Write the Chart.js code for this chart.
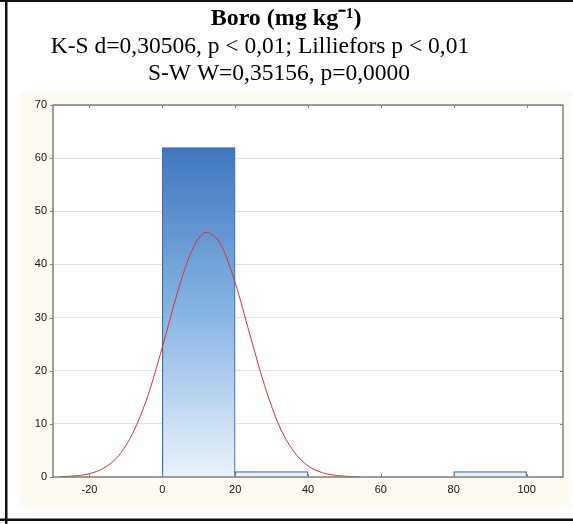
<!DOCTYPE html>
<html><head><meta charset="utf-8">
<script src="https://cdn.jsdelivr.net/npm/chart.js@4"></script>
<style>html,body{margin:0;padding:0;background:#fff;}#wrap{width:573px;height:524px;position:relative;}</style>
</head><body><div id="wrap"><canvas id="c" width="573" height="524"></canvas></div>
<script>
// Histogram bins (bin centre, bin width 20)
const binCenters = [10, 30, 90];
const binCounts = [62, 1, 1];
// Expected normal curve
const curveX = [-28, -24, -20, -16, -12, -8, -4, 0, 4, 8, 12, 16, 20, 24, 28, 32, 36, 40, 44, 48, 52, 54];
const curveY = [0.06, 0.21, 0.63, 1.7, 4.0, 8.4, 15.2, 24.4, 34.3, 42.4, 46.0, 43.8, 36.6, 26.9, 17.4, 9.8, 4.9, 2.1, 0.8, 0.28, 0.08, 0.05];
const xTicks = [-20, 0, 20, 40, 60, 80, 100];
const yTicks = [0, 10, 20, 30, 40, 50, 60, 70];
const titleLines = ['Boro (mg kg\u207B\u00B9)', 'K-S d=0,30506, p < 0,01; Lilliefors p < 0,01', 'S-W W=0,35156, p=0,0000'];

const serif = "'Liberation Serif', 'Times New Roman', serif";
const narrow = "'Liberation Sans Narrow', 'Liberation Sans', Arial, sans-serif";

const frame = {
  id: 'frame',
  beforeDraw(chart) {
    const ctx = chart.ctx;
    ctx.save();
    ctx.fillStyle = '#ffffff';
    ctx.fillRect(0, 0, 573, 524);
    ctx.fillStyle = '#fdfaf1';
    ctx.fillRect(20, 92, 551, 415);
    const a = chart.chartArea;
    ctx.fillStyle = '#ffffff';
    ctx.fillRect(a.left, a.top, a.right - a.left, a.bottom - a.top);
    ctx.fillStyle = '#111';
    ctx.fillRect(5, 0, 2.5, 524);
    ctx.fillRect(0, 0, 573, 2);
    ctx.fillRect(0, 518.5, 573, 2.5);
    // title block
    ctx.fillStyle = '#000';
    ctx.textAlign = 'center';
    ctx.textBaseline = 'middle';
    ctx.font = 'bold 24px ' + serif;
    ctx.fillText(titleLines[0], 286, 18.5);
    ctx.font = '23.5px ' + serif;
    ctx.fillText(titleLines[1], 260, 46.5);
    ctx.fillText(titleLines[2], 279, 73.5);
    ctx.restore();
  },
  afterDatasetsDraw(chart) {
    const ctx = chart.ctx, a = chart.chartArea;
    const xs = chart.scales.x, ys = chart.scales.y;
    ctx.save();
    ctx.strokeStyle = '#808080';
    ctx.lineWidth = 1.5;
    ctx.strokeRect(a.left, a.top, a.right - a.left, a.bottom - a.top);
    ctx.lineWidth = 1;
    ctx.beginPath();
    xTicks.forEach(v => {
      const px = Math.round(xs.getPixelForValue(v)) + 0.5;
      ctx.moveTo(px, a.bottom); ctx.lineTo(px, a.bottom - 3);
      ctx.moveTo(px, a.top); ctx.lineTo(px, a.top + 3);
    });
    yTicks.forEach(v => {
      const py = Math.round(ys.getPixelForValue(v)) + 0.5;
      ctx.moveTo(a.left, py); ctx.lineTo(a.left - 3, py);
      ctx.moveTo(a.right, py); ctx.lineTo(a.right - 3, py);
    });
    ctx.stroke();
    ctx.restore();
  }
};

const ctx = document.getElementById('c').getContext('2d');
function barGradient(context) {
  const chart = context.chart;
  const ys = chart.scales.y;
  if (!ys || !chart.chartArea) return '#4a80c4';
  const top = ys.getPixelForValue(62), bot = ys.getPixelForValue(0);
  const g = chart.ctx.createLinearGradient(0, top, 0, bot);
  g.addColorStop(0, '#3f76bf');
  g.addColorStop(0.5, '#86b5e3');
  g.addColorStop(1, '#eaf3fc');
  return g;
}

new Chart(ctx, {
  data: {
    datasets: [
      {
        type: 'line',
        data: curveX.map((x, i) => ({x, y: curveY[i]})),
        borderColor: '#d8303c',
        borderWidth: 1,
        pointRadius: 0,
        cubicInterpolationMode: 'monotone',
        order: 0
      },
      {
        type: 'bar',
        data: binCenters.map((x, i) => ({x, y: binCounts[i]})),
        backgroundColor: barGradient,
        borderColor: '#3c6db3',
        borderWidth: 1.2,
        barPercentage: 1,
        categoryPercentage: 1,
        order: 1
      }
    ]
  },
  options: {
    responsive: false,
    animation: false,
    layout: { padding: { left: 0, right: 10, top: 105, bottom: 0 } },
    plugins: {
      legend: { display: false },
      tooltip: { enabled: false },
      title: { display: false },
      subtitle: { display: false }
    },
    scales: {
      x: {
        type: 'linear', min: -30, max: 110, offset: false,
        afterBuildTicks(s) { s.ticks = xTicks.map(v => ({value: v})); },
        afterFit(s) { s.height = 47; },
        grid: { display: false, drawTicks: false, offset: false },
        border: { display: false },
        ticks: { color: '#111', padding: 6, font: { family: narrow, size: 11 } }
      },
      y: {
        type: 'linear', min: 0, max: 70,
        afterBuildTicks(s) { s.ticks = yTicks.map(v => ({value: v})); },
        afterFit(s) { s.width = 53; },
        grid: { color: '#e2e2e2', lineWidth: 1, drawTicks: false },
        border: { display: false },
        ticks: { color: '#111', padding: 6, font: { family: narrow, size: 11 } }
      }
    }
  },
  plugins: [frame]
});
</script></body></html>
